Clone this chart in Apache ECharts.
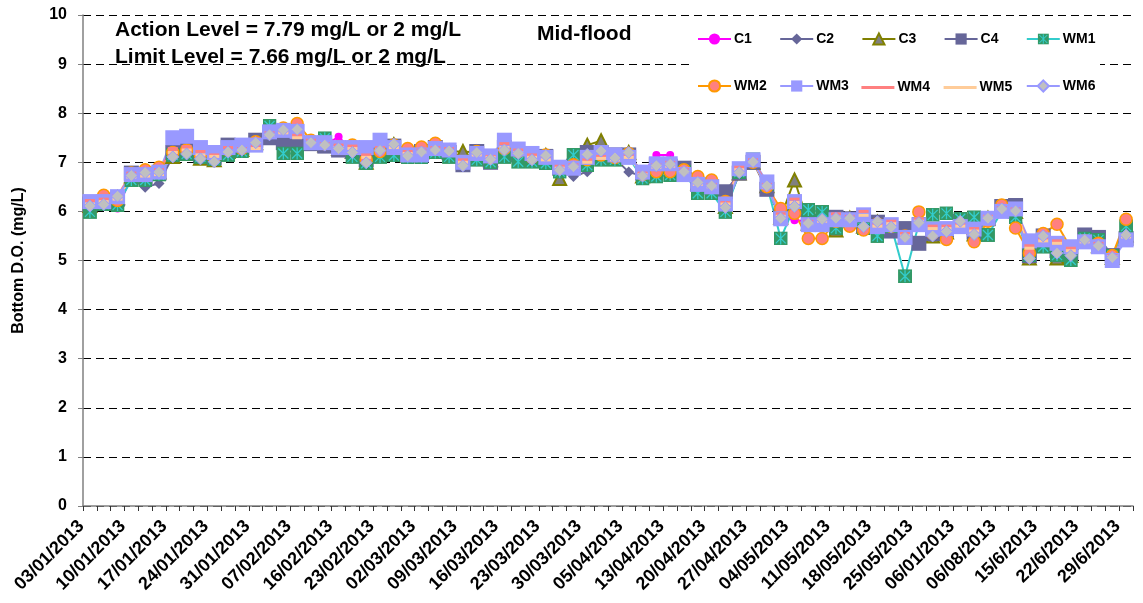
<!DOCTYPE html>
<html>
<head>
<meta charset="utf-8">
<script src="https://cdn.jsdelivr.net/npm/echarts@6/dist/echarts.min.js"></script>
<style>
	html, body { margin: 0; padding: 0; background: #fff; }
	#main { width: 1143px; height: 603px; }
</style>
</head>
<body>
<div id="main"></div>
<script>
// sampling dates (labels shown every third one)
var dates = [
	'03/01/2013','05/01/2013','08/01/2013','10/01/2013','12/01/2013','15/01/2013',
	'17/01/2013','19/01/2013','22/01/2013','24/01/2013','26/01/2013','29/01/2013',
	'31/01/2013','02/02/2013','05/02/2013','07/02/2013','09/02/2013','14/02/2013',
	'16/02/2013','19/02/2013','21/02/2013','23/02/2013','26/02/2013','28/02/2013',
	'02/03/2013','05/03/2013','07/03/2013','09/03/2013','12/03/2013','14/03/2013',
	'16/03/2013','19/03/2013','21/03/2013','23/03/2013','26/03/2013','28/03/2013',
	'30/03/2013','02/04/2013','03/04/2013','05/04/2013','09/04/2013','11/04/2013',
	'13/04/2013','16/04/2013','18/04/2013','20/04/2013','23/04/2013','25/04/2013',
	'27/04/2013','30/04/2013','02/05/2013','04/05/2013','07/05/2013','09/05/2013',
	'11/05/2013','14/05/2013','16/05/2013','18/05/2013','21/05/2013','23/05/2013',
	'25/05/2013','28/05/2013','30/05/2013','06/01/2013','06/04/2013','06/06/2013',
	'06/08/2013','11/6/2013','13/6/2013','15/6/2013','18/6/2013','20/6/2013',
	'22/6/2013','25/6/2013','27/6/2013','29/6/2013'
];

var C1 = [6.10,6.18,6.06,6.70,6.75,6.82,7.15,7.20,7.10,7.05,
	7.22,7.28,7.38,7.55,7.42,7.60,7.38,7.35,7.52,7.22,
	7.02,7.22,7.35,7.15,7.20,7.28,7.22,6.95,7.18,7.05,
	7.22,7.20,7.05,7.12,6.85,6.92,7.15,7.22,7.10,7.18,
	6.75,7.15,7.15,6.85,6.60,6.55,6.10,6.80,7.00,6.50,
	5.90,5.82,5.80,5.82,5.85,5.85,5.70,5.80,5.65,5.50,
	5.78,5.55,5.60,5.78,5.55,5.85,6.02,6.00,5.08,5.50,
	5.18,5.12,5.40,5.32,5.08,5.50];
var C2 = [6.12,6.15,6.25,6.70,6.49,6.57,7.12,7.15,7.08,7.02,
	7.20,7.25,7.38,7.55,7.62,7.65,7.40,7.33,7.26,7.20,
	6.98,7.22,7.35,7.12,7.20,7.25,7.20,6.92,7.18,7.05,
	7.22,7.15,7.02,7.12,6.82,6.71,6.81,7.20,7.08,6.80,
	6.72,6.90,6.95,6.80,6.58,6.50,6.10,6.75,7.00,6.50,
	5.85,6.08,5.75,5.82,5.85,5.85,5.68,5.78,5.65,5.50,
	5.75,5.50,5.58,5.78,5.52,5.85,6.03,6.00,5.05,5.48,
	5.04,5.10,5.40,5.30,5.06,5.50];
var C3 = [6.12,6.16,6.28,6.72,6.78,6.80,7.12,7.18,7.08,7.05,
	7.22,7.26,7.40,7.55,7.64,7.66,7.40,7.35,7.28,7.22,
	7.00,7.24,7.36,7.14,7.20,7.26,7.22,7.22,7.20,7.05,
	7.25,7.18,7.05,7.14,6.67,6.90,7.35,7.44,7.09,7.20,
	6.72,6.92,6.96,6.82,6.58,6.52,6.10,6.78,7.00,6.52,
	5.88,6.64,5.76,5.84,5.62,5.86,5.70,5.78,5.68,5.48,
	5.76,5.50,5.58,5.80,5.54,5.86,6.04,6.00,5.05,5.50,
	5.05,5.10,5.42,5.30,5.06,5.52];
var C4 = [6.15,6.17,6.25,6.78,6.70,6.78,7.20,7.25,7.15,7.10,
	7.35,7.30,7.45,7.50,7.40,7.39,7.38,7.33,7.25,7.22,
	7.05,7.20,7.33,7.15,7.22,7.30,7.20,6.95,7.22,7.00,
	7.30,7.15,7.08,7.12,6.88,6.92,7.20,7.20,7.15,7.15,
	6.78,6.95,6.92,6.88,6.55,6.50,6.40,6.78,7.00,6.45,
	5.90,6.05,5.75,5.80,5.88,5.85,5.72,5.78,5.60,5.65,
	5.35,5.55,5.62,5.80,5.58,5.85,6.10,6.12,5.10,5.50,
	5.20,5.15,5.52,5.47,5.10,5.45];
var WM1 = [5.99,6.15,6.13,6.64,6.64,6.75,7.15,7.17,7.11,7.06,
	7.15,7.22,7.35,7.74,7.18,7.18,7.40,7.49,7.30,7.11,
	6.98,7.11,7.14,7.10,7.10,7.20,7.11,7.00,7.05,7.00,
	7.11,7.01,7.01,6.98,6.81,7.15,6.94,7.05,7.05,7.10,
	6.67,6.71,6.74,6.80,6.37,6.37,5.99,6.80,7.06,6.55,
	5.45,6.10,6.03,5.99,5.66,5.80,5.66,5.50,5.70,4.68,
	5.75,5.93,5.96,5.85,5.88,5.52,6.00,5.88,5.11,5.28,
	5.11,5.01,5.45,5.42,5.10,5.70];
var WM2 = [6.18,6.33,6.22,6.78,6.85,6.90,7.20,7.25,7.15,7.10,
	7.25,7.28,7.42,7.60,7.70,7.79,7.45,7.38,7.32,7.35,
	7.05,7.22,7.35,7.28,7.31,7.39,7.25,6.98,7.22,7.10,
	7.28,7.22,7.10,7.15,6.90,6.95,7.05,7.15,7.10,7.18,
	6.75,6.81,6.81,6.85,6.71,6.64,6.20,6.85,7.00,6.50,
	6.06,5.96,5.45,5.45,5.80,5.70,5.62,5.75,5.70,5.50,
	5.99,5.55,5.43,5.70,5.38,5.80,6.13,5.66,5.15,5.55,
	5.74,5.25,5.40,5.35,5.10,5.84];
var WM3 = [6.20,6.20,6.30,6.75,6.75,6.80,7.50,7.53,7.30,7.20,
	7.30,7.35,7.35,7.62,7.65,7.63,7.40,7.40,7.30,7.30,
	7.30,7.45,7.30,7.15,7.15,7.28,7.25,7.00,7.18,7.13,
	7.45,7.27,7.18,7.10,6.90,6.88,7.10,7.20,7.15,7.10,
	6.80,6.97,6.97,6.75,6.55,6.50,6.15,6.87,7.05,6.60,
	5.85,6.20,5.73,5.73,5.83,5.83,5.93,5.69,5.73,5.47,
	5.73,5.64,5.65,5.69,5.64,5.86,6.00,6.05,5.40,5.42,
	5.35,5.28,5.38,5.28,5.00,5.42];
var WM4 = [6.22,6.25,6.32,6.78,6.80,6.85,7.28,7.32,7.22,7.15,
	7.30,7.28,7.33,7.60,7.62,7.55,7.45,7.38,7.35,7.33,
	7.15,7.30,7.35,7.22,7.25,7.30,7.28,7.05,7.20,7.12,
	7.38,7.25,7.15,7.12,6.92,6.95,7.05,7.12,7.10,7.15,
	6.78,6.95,7.00,6.85,6.60,6.55,6.18,6.90,7.05,6.55,
	5.95,6.25,5.80,5.85,5.95,5.90,6.00,5.75,5.80,5.55,
	5.85,5.70,5.70,5.75,5.65,5.90,6.08,6.05,5.30,5.45,
	5.40,5.25,5.42,5.35,5.10,5.50];
var WM5 = [6.15,6.20,6.25,6.70,6.72,6.75,7.20,7.25,7.15,7.12,
	7.22,7.25,7.28,7.55,7.60,7.50,7.40,7.35,7.30,7.28,
	7.10,7.25,7.30,7.18,7.20,7.25,7.22,7.00,7.15,7.10,
	7.30,7.20,7.10,7.05,6.88,6.90,7.00,7.08,7.05,7.10,
	6.75,6.90,6.92,6.80,6.55,6.50,6.15,6.85,7.00,6.50,
	5.90,6.18,5.75,5.80,5.88,5.85,5.92,5.70,5.75,5.50,
	5.80,5.65,5.65,5.70,5.60,5.88,6.05,6.02,5.25,5.40,
	5.35,5.20,5.38,5.30,5.08,5.48];
var WM6 = [6.11,6.14,6.31,6.73,6.79,6.80,7.11,7.17,7.07,7.01,
	7.21,7.25,7.40,7.56,7.66,7.67,7.40,7.35,7.28,7.20,
	6.99,7.24,7.37,7.13,7.21,7.25,7.23,6.93,7.20,7.06,
	7.25,7.18,7.05,7.14,6.84,6.91,7.16,7.23,7.09,7.20,
	6.72,6.93,6.96,6.81,6.59,6.52,6.08,6.79,7.01,6.52,
	5.86,6.10,5.76,5.84,5.86,5.86,5.69,5.79,5.68,5.47,
	5.77,5.50,5.59,5.80,5.53,5.86,6.05,6.01,5.04,5.50,
	5.15,5.10,5.42,5.30,5.06,5.52];

var yTicks = [0, 10, 1];
var FONT = 'Liberation Sans, Arial, sans-serif';

// green square with turquoise cross for WM1
var wm1Icon = 'image://data:image/svg+xml;utf8,' + encodeURIComponent(
	'<svg xmlns="http://www.w3.org/2000/svg" width="14" height="14">' +
	'<rect width="14" height="14" fill="#339966"/>' +
	'<path d="M2 2L12 12M12 2L2 12M7 1V13" stroke="#33CCCC" stroke-width="1.3"/></svg>');

function mkSeries(name, data, lineColor, symbol, size, fill, border, bw) {
	return {
		name: name,
		type: 'line',
		data: data,
		symbol: symbol,
		symbolSize: size,
		showAllSymbol: true,
		lineStyle: { color: lineColor, width: 2 },
		itemStyle: { color: fill, borderColor: border || fill, borderWidth: bw || 0 },
		emphasis: { disabled: true }
	};
}

// one legend block per item so that the columns line up like the original
var legendNames = ['C1', 'C2', 'C3', 'C4', 'WM1', 'WM2', 'WM3', 'WM4', 'WM5', 'WM6'];
var dashColors = { WM4: '#FF8080', WM5: '#FFCC99' };
var legends = [];
for (var i = 0; i < legendNames.length; i++) {
	var nm = legendNames[i];
	var flat = dashColors[nm];
	var rowY = i < 5 ? 39 : 86;
	legends.push({
		data: [flat ? { name: nm, icon: 'rect', itemStyle: { color: flat } } : nm],
		left: 697 + (i % 5) * 82.2,
		top: flat ? rowY - 5.5 : rowY - 7,
		padding: 0,
		itemWidth: 33,
		itemHeight: flat ? 3 : 14,
		textStyle: { fontFamily: FONT, fontWeight: 'bold', fontSize: 14, color: '#000', padding: [0, 0, 0, -2] }
	});
}

var chart = echarts.init(document.getElementById('main'));
var option = {
	animation: false,
	backgroundColor: '#fff',
	grid: { left: 83, right: 10, top: 15, bottom: 97 },
	legend: legends,
	graphic: [
		{ type: 'rect', left: 690, top: 20, z: 1, shape: { width: 410, height: 84 }, style: { fill: '#fff' } },
		{ type: 'text', left: 115, top: 20, z: 5, style: { text: 'Action Level = 7.79 mg/L or 2 mg/L', font: 'bold 21px ' + FONT, fill: '#000' } },
		{ type: 'text', left: 115, top: 47, z: 5, style: { text: 'Limit Level = 7.66 mg/L or 2 mg/L', font: 'bold 21px ' + FONT, fill: '#000' } },
		{ type: 'text', left: 537, top: 24, z: 5, style: { text: 'Mid-flood', font: 'bold 21px ' + FONT, fill: '#000' } }
	],
	xAxis: {
		type: 'category',
		data: dates,
		boundaryGap: true,
		axisLine: { lineStyle: { color: '#808080', width: 1.5 } },
		axisTick: { show: true, interval: 0, length: 5, lineStyle: { color: '#333' } },
		axisLabel: {
			interval: 2, rotate: 45, margin: 9,
			padding: [0, 12, 0, 0],
			fontFamily: FONT, fontWeight: 'bold', fontSize: 18, color: '#000'
		},
		splitLine: { show: false }
	},
	yAxis: {
		type: 'value',
		min: yTicks[0], max: yTicks[1], interval: yTicks[2],
		name: 'Bottom D.O. (mg/L)',
		nameLocation: 'middle',
		nameGap: 56,
		nameTextStyle: { fontFamily: FONT, fontWeight: 'bold', fontSize: 16, color: '#000' },
		axisLine: { show: true, lineStyle: { color: '#808080', width: 1.5 } },
		axisTick: { show: true, length: 5, lineStyle: { color: '#808080' } },
		axisLabel: { fontFamily: FONT, fontWeight: 'bold', fontSize: 16, color: '#000', margin: 16 },
		splitLine: { show: true, lineStyle: { color: '#000', type: [8, 5], width: 1 } }
	},
	series: [
		mkSeries('C1', C1, '#FF00FF', 'circle', 8, '#FF00FF'),
		mkSeries('C2', C2, '#666699', 'diamond', 11, '#666699'),
		mkSeries('C3', C3, '#808000', 'triangle', 13, '#808080', '#808000', 2),
		mkSeries('C4', C4, '#666699', 'rect', 15, '#666699'),
		mkSeries('WM1', WM1, '#33CCCC', wm1Icon, 14, '#339966'),
		mkSeries('WM2', WM2, '#FF9900', 'circle', 12, '#FF8080', '#FF9900', 1.5),
		mkSeries('WM3', WM3, '#9999FF', 'rect', 15, '#9999FF'),
		mkSeries('WM4', WM4, '#FF8080', 'rect', [10, 3], '#FF8080'),
		mkSeries('WM5', WM5, '#FFCC99', 'rect', [10, 3], '#FFCC99'),
		mkSeries('WM6', WM6, '#9999FF', 'diamond', 12, '#C0C0C0', '#9999FF', 1)
	]
};
chart.setOption(option);
</script>
</body>
</html>
